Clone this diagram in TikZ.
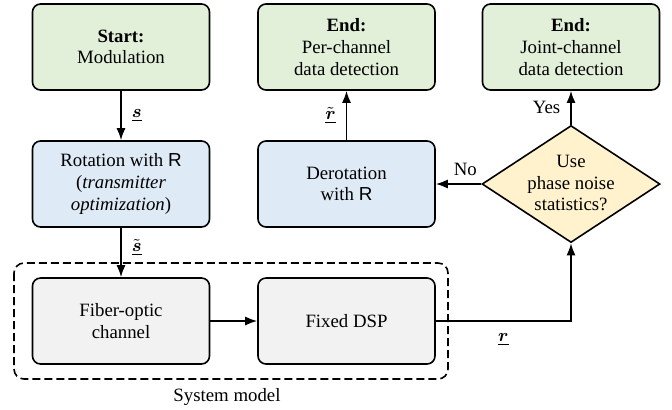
\documentclass[tikz,border=0pt]{standalone}
\usepackage{amsmath,amsbsy}
\usepackage{fontspec}
\setmainfont{Liberation Serif}
\setsansfont{Liberation Sans}
\usetikzlibrary{shapes.geometric,arrows.meta}
\definecolor{startgreen}{HTML}{E2EFD9}
\definecolor{rotblue}{HTML}{DEEAF6}
\definecolor{decyellow}{HTML}{FFF2CC}
\definecolor{sysgray}{HTML}{F2F2F2}
\tikzset{
  blockbox/.style={draw=black, line width=0.8pt, rounded corners=4pt, minimum width=88.5pt, minimum height=43pt, align=center, inner sep=2pt},
  greenbox/.style={blockbox, fill=startgreen},
  bluebox/.style={blockbox, fill=rotblue},
  graybox/.style={blockbox, fill=sysgray},
  decbox/.style={draw=black, line width=0.8pt, diamond, fill=decyellow, minimum width=89pt, minimum height=58.5pt, inner sep=0pt, aspect=1.52},
  conn/.style={line width=0.8pt, -{Latex[length=6pt,width=4.5pt]}},
  lbl/.style={inner sep=1pt}
}
\begin{document}
\begin{tikzpicture}[x=0.5pt,y=-0.5pt,font=\fontsize{9.4}{10.8}\selectfont]
\useasboundingbox (0,0) rectangle (672,409);
% dashed system model frame
\draw[dashed, line width=0.8pt, rounded corners=5pt, dash pattern=on 4pt off 2pt] (14,263) rectangle (448,379);
\node (sysmodel) at (227,397) {System model};
% nodes
\node[greenbox] (start) at (121,47) {\textbf{Start:}\\Modulation};
\node[greenbox] (endper) at (346.5,47) {\textbf{End:}\\Per-channel\\data detection};
\node[greenbox] (endjoint) at (571,47) {\textbf{End:}\\Joint-channel\\data detection};
\node[bluebox] (rot) at (121,184) {Rotation with \textsf{R}\\(\textit{transmitter}\\\textit{optimization})};
\node[bluebox] (derot) at (346.5,184) {Derotation\\with \textsf{R}};
\node[decbox] (dec) at (571,184) {};
\node[align=center, inner sep=0pt] (dectext) at (571,183) {Use\\phase noise\\statistics?};
\node[graybox] (fiber) at (121,321) {Fiber-optic\\channel};
\node[graybox] (dsp) at (346.5,321) {Fixed DSP};
\coordinate (corner) at (571,321);
% connectors
\draw[conn] (start) -- node[lbl, right, xshift=4pt] {$\underline{\boldsymbol{s}}$} (rot);
\draw[conn] (rot) -- node[lbl, right, xshift=4pt, pos=0.4] {$\underline{\tilde{\boldsymbol{s}}}$} (fiber);
\draw[conn] (fiber) -- (dsp);
\draw[conn] (dsp.east) -- node[lbl, below, yshift=-5pt] {$\underline{\boldsymbol{r}}$} (corner) -- (dec.south);
\draw[conn] (dec.west) -- node[lbl, above, yshift=3pt, pos=0.35] {No} (derot.east);
\draw[conn] (derot) -- node[lbl, left, xshift=-4pt] {$\underline{\tilde{\boldsymbol{r}}}$} (endper);
\draw[conn] (dec.north) -- node[lbl, left, xshift=-4pt] {Yes} (endjoint);
\end{tikzpicture}
\end{document}
